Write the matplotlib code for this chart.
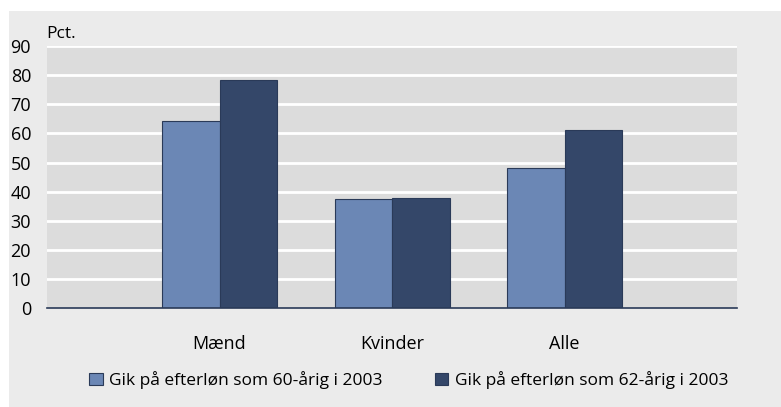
import numpy as np
import matplotlib
matplotlib.use("Agg")
import matplotlib.pyplot as plt
from matplotlib.patches import Rectangle

plt.rcParams['font.family'] = ['Open Sans', 'DejaVu Sans']

categories = ["Mænd", "Kvinder", "Alle"]
series_labels = ["Gik på efterløn som 60-årig i 2003", "Gik på efterløn som 62-årig i 2003"]
vals_60 = [64.3, 37.4, 48.1]
vals_62 = [78.3, 38.0, 61.2]
yticks = [0, 10, 20, 30, 40, 50, 60, 70, 80, 90]

c_light = "#6b87b5"
c_dark = "#344769"
edge = "#2a3a58"

W, H = 781, 407
fig = plt.figure(figsize=(W / 100, H / 100), dpi=100)
fig.patch.set_facecolor("white")
# outer grey panel
fig.patches.append(Rectangle((9 / W, 0), 1, 1 - 11 / H, transform=fig.transFigure,
                             facecolor="#ebebeb", edgecolor="none", zorder=-5))

ax = fig.add_axes([47 / W, 1 - 308.3 / H, 690 / W, (308.3 - 46) / H])
ax.set_zorder(2)
ax.set_facecolor("#dcdcdc")

x = np.arange(len(categories))
bw = 1 / 3
ax.bar(x - bw / 2, vals_60, bw, color=c_light, edgecolor=edge, linewidth=0.8,
       label=series_labels[0], zorder=3)
ax.bar(x + bw / 2, vals_62, bw, color=c_dark, edgecolor=edge, linewidth=0.8,
       label=series_labels[1], zorder=3)

ax.set_xlim(-1, 3)
ax.set_ylim(0, 90)
ax.set_yticks(yticks)
ax.set_yticklabels([str(v) for v in yticks])
ax.set_xticks(x)
ax.set_xticklabels(categories)
ax.tick_params(axis="both", length=0, labelsize=13, colors="black")
ax.tick_params(axis="y", pad=11.5)
ax.tick_params(axis="x", pad=19)
for yv in yticks[1:]:
    ax.axhline(yv, color="white", linewidth=2, zorder=1)

for s in ["top", "right", "left"]:
    ax.spines[s].set_visible(False)
ax.spines["bottom"].set_color(edge)
ax.spines["bottom"].set_linewidth(1.2)
ax.spines["bottom"].set_zorder(4)

fig.text(46 / W, 1 - 38 / H, "Pct.", fontsize=12.5, ha="left", va="baseline", zorder=3)

leg = fig.legend(loc="center", bbox_to_anchor=(409 / W, 1 - 380 / H), ncol=2, frameon=False,
                 fontsize=12.5, handlelength=0.75, handleheight=0.75, handletextpad=0.4,
                 columnspacing=3.0, borderaxespad=0)
leg.set_zorder(3)

fig.savefig("out.png", dpi=100, facecolor=fig.get_facecolor())
